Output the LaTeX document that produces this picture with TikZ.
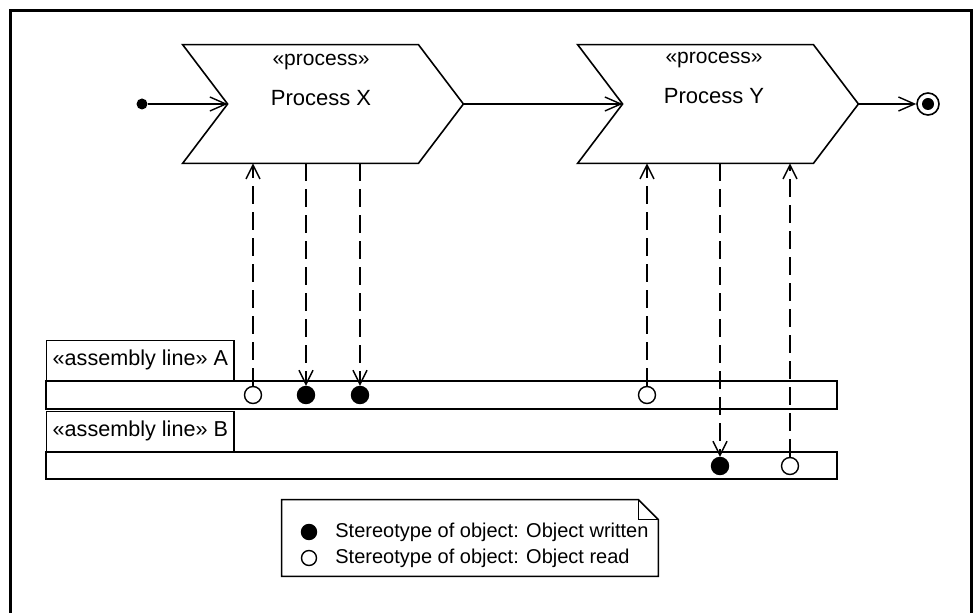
\documentclass[tikz,border=0pt]{standalone}
\usepackage{fontspec}
\setmainfont{Liberation Sans}
\usetikzlibrary{arrows.meta,fit}

\begin{document}
\begin{tikzpicture}[
  x=0.5pt, y=-0.5pt,
  font=\fontsize{10.5}{12}\selectfont,
  proc/.style={draw=none, minimum width=140pt, minimum height=59pt, inner sep=0pt},
  chevron/.style={line width=0.8pt, line join=miter},
  lanelabel/.style={draw, line width=0.7pt, anchor=south west, minimum height=20pt,
              inner xsep=3pt, inner ysep=0pt, font=\fontsize{10.8}{12}\selectfont},
  lane/.style={draw, line width=0.7pt, inner sep=0pt},
  wpin/.style={circle, draw, fill=black, minimum size=8.5pt, inner sep=0pt, line width=0.7pt},
  rpin/.style={circle, draw, fill=white, minimum size=8.5pt, inner sep=0pt, line width=0.7pt},
  ctrl/.style={-{Straight Barb[length=8pt,width=7pt]}, line width=0.7pt},
  flow/.style={-{Straight Barb[length=7pt,width=7pt]}, line width=0.7pt, dash pattern=on 9pt off 4pt},
  legtext/.style={anchor=west, inner sep=0pt, font=\fontsize{10}{12}\selectfont}
]
\useasboundingbox (0,0) rectangle (974,613);
\draw[line width=1.8pt] (10.5,613) -- (10.5,10.5) -- (971.5,10.5) -- (971.5,613);

% processes
\node[proc] (px) at (323,104) {};
\node[proc] (py) at (718,104) {};
\foreach \p in {px,py}
  \draw[chevron] (\p.north west) -- ([xshift=-22.5pt]\p.north east) -- (\p.east)
    -- ([xshift=-22.5pt]\p.south east) -- (\p.south west) -- ([xshift=22.5pt]\p.west) -- cycle;
\node (pxst) at ([xshift=-1pt,yshift=21pt]px.center) {«process»};
\node[font=\fontsize{11}{13}\selectfont] (pxname) at ([xshift=-1pt,yshift=3pt]px.center) {Process X};
\node (pyst) at ([xshift=-2pt,yshift=22pt]py.center) {«process»};
\node[font=\fontsize{11}{13}\selectfont] (pyname) at ([xshift=-2pt,yshift=4pt]py.center) {Process Y};

\node[circle, fill, minimum size=5.5pt, inner sep=0pt] (init) at (142,104) {};
\node[circle, draw, line width=0.8pt, minimum size=11pt, inner sep=0pt] (final) at (928,104) {};
\fill (final) circle (3pt);

% assembly lines
\node[lanelabel] (labA) at (46,381) {«assembly line» A};
\node[lane, fit={(46,381) (837,409)}] (laneA) {};
\node[lanelabel] (labB) at (46,452) {«assembly line» B};
\node[lane, fit={(46,452) (837,479)}] (laneB) {};

\node[rpin] (rA1) at (253,395) {};
\node[wpin] (wA2) at (306,395) {};
\node[wpin] (wA3) at (360,395) {};
\node[rpin] (rA4) at (647,395) {};
\node[wpin] (wB1) at (720,466) {};
\node[rpin] (rB2) at (790,466) {};

\draw[ctrl] (init) -- ([xshift=22.5pt]px.west);
\draw[ctrl] (px.east) -- ([xshift=22.5pt]py.west);
\draw[ctrl] (py.east) -- (final);
\draw[flow] (rA1) -- (rA1 |- px.south);
\draw[flow] (wA2 |- px.south) -- (wA2);
\draw[flow] (wA3 |- px.south) -- (wA3);
\draw[flow] (rA4) -- (rA4 |- py.south);
\draw[flow] (wB1 |- py.south) -- (wB1);
\draw[flow] (rB2) -- (rB2 |- py.south);

% legend note
\node[draw=none, inner sep=0pt, fit={(282,500) (658,576)}] (legend) {};
\draw[chevron] (legend.north west) -- ([xshift=-10pt]legend.north east) -- ([yshift=-10pt]legend.north east)
  -- (legend.south east) -- (legend.south west) -- cycle;
\draw[chevron] ([xshift=-10pt]legend.north east) |- ([yshift=-10pt]legend.north east);
\node[wpin, minimum size=7.5pt] (lgw) at (309,532) {};
\node[rpin, minimum size=7.5pt] (lgr) at (309,558) {};
\node[legtext] (lgwtext) at (335,532) {Stereotype of object: Object written};
\node[legtext] (lgrtext) at (335,558) {Stereotype of object: Object read};
\end{tikzpicture}
\end{document}
